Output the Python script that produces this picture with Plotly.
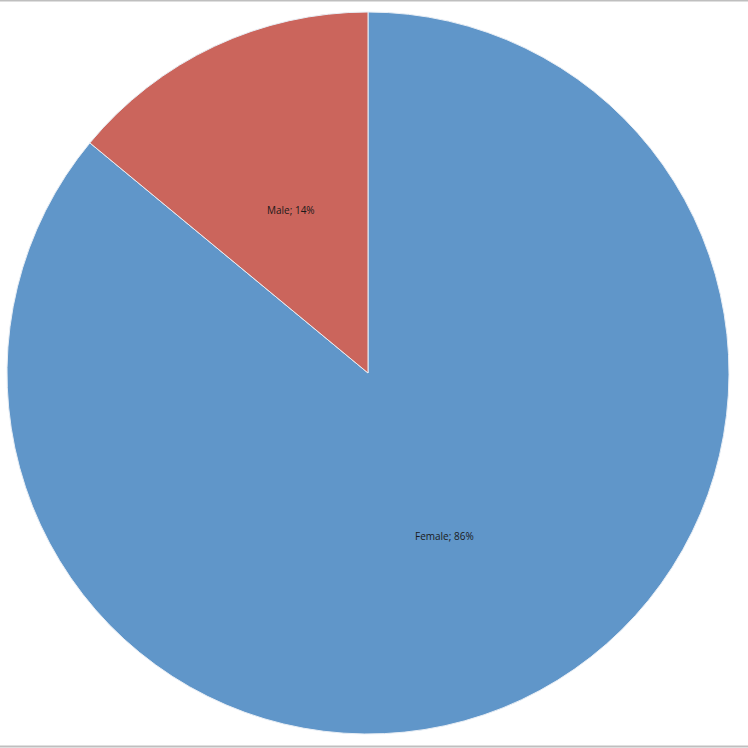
import math
import plotly.graph_objects as go

labels = ['Female', 'Male']
values = [86, 14]
colors = ['#6096C9', '#CB655C']

W = H = 748
ml, mr, mt, mb = 7, 19, 12, 14
pw = W - ml - mr
ph = H - mt - mb

fig = go.Figure(go.Pie(
    labels=labels,
    values=values,
    sort=False,
    direction='clockwise',
    rotation=0,
    marker=dict(colors=colors, line=dict(color='#E8EEF5', width=1)),
    textinfo='none',
    hoverinfo='label+percent',
    showlegend=False,
))

# data labels half way out along each slice's bisector (like Excel)
total = sum(values)
start = 0.0
for lab, v in zip(labels, values):
    mid = (start + v / 2) / total * 2 * math.pi
    start += v
    fig.add_annotation(
        x=0.5 + 0.25 * math.sin(mid), y=0.5 + 0.25 * math.cos(mid),
        xref='paper', yref='paper', showarrow=False,
        xanchor='center', yanchor='middle',
        text=f'{lab}; {round(100 * v / total)}%',
        font=dict(family='Open Sans', size=10, color='#1A1A1A'),
    )

# thin grey frame lines at top and bottom of the chart area
for y in [1 + (mt - 0.5) / ph, -(mb - 1.5) / ph]:
    fig.add_shape(type='line', xref='paper', yref='paper',
                  x0=-ml / pw, x1=1 + mr / pw, y0=y, y1=y,
                  line=dict(color='#BFBFBF', width=2))

fig.update_layout(
    width=W, height=H,
    margin=dict(l=ml, r=mr, t=mt, b=mb),
    paper_bgcolor='white',
    plot_bgcolor='white',
)

fig.write_html("out.html", config={'displayModeBar': False},
               post_script="document.body.style.margin='0';")
